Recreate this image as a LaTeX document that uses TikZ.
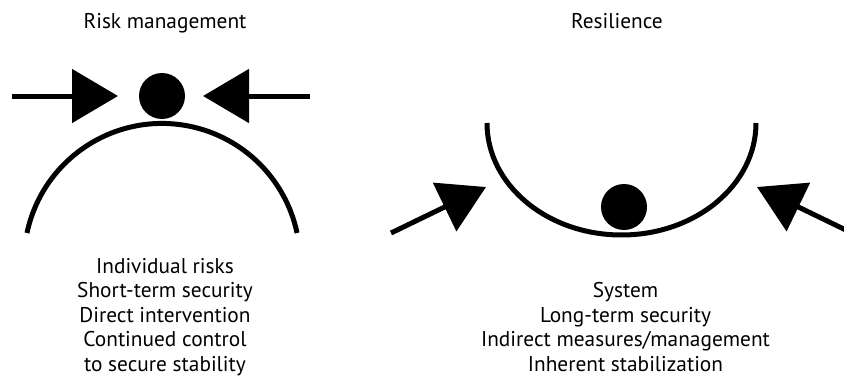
\documentclass[tikz,border=0pt]{standalone}
\usepackage{fontspec}
\setmainfont{PT Sans}
\usetikzlibrary{arrows.meta}

\tikzset{
  caption/.style={font=\fontsize{16}{18.4}\selectfont, align=center, inner sep=0pt},
  push/.style={line width=3.75pt, -{Triangle[length=34.5pt,width=39.75pt]}},
  ground/.style={line width=3.75pt},
  ball/.style={fill=black},
}

\begin{document}
\begin{tikzpicture}[x=0.75pt,y=0.75pt]
\useasboundingbox (0,0) rectangle (844,387);

% Risk management: ball held on top of the hill
\node[caption, anchor=base] (rmtitle) at (165,359) {Risk management};

% Drawing hill
\draw[ground] (27,154) arc[start angle=168.1, end angle=11.9, radius=103.5pt];

% Ball on the hill
\fill[ball] (162,291) circle (17.25pt);

% Pushing arrows from both sides
\coordinate (rmleft) at (12,291);
\coordinate (rmlefttip) at (118,291);
\coordinate (rmright) at (310,291);
\coordinate (rmrighttip) at (203,291);
\draw[push] (rmleft) -- (rmlefttip);
\draw[push] (rmright) -- (rmrighttip);

% base anchor sits on the last line
\node[caption, anchor=base] (rmtext) at (165,15.5)
  {Individual risks\\Short-term security\\Direct intervention\\Continued control\\to secure stability};

% Resilience: ball resting in the valley
\node[caption, anchor=base] (restitle) at (617,359) {Resilience};

% Drawing valley
\draw[ground] (487,264) arc[start angle=180, end angle=360, x radius=100.875pt, y radius=84pt];

% Ball in the valley
\fill[ball] (624,180) circle (17.25pt);

% Disturbing arrows from both sides
\coordinate (resleft) at (391,154);
\coordinate (reslefttip) at (486,200);
\coordinate (resright) at (852,154);
\coordinate (resrighttip) at (757,200);
\draw[push] (resleft) -- (reslefttip);
\draw[push] (resright) -- (resrighttip);

\node[caption, anchor=base] (restext) at (625.5,15.5)
  {System\\Long-term security\\Indirect measures/management\\Inherent stabilization};
\end{tikzpicture}
\end{document}
